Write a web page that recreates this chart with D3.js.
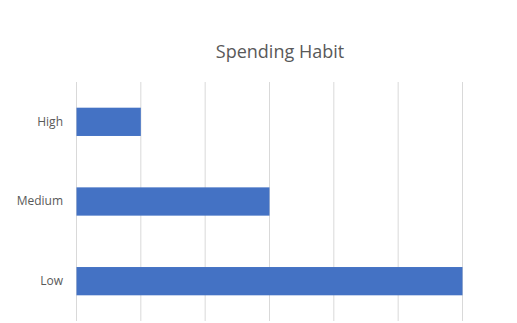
<!DOCTYPE html>
<html>
<head>
<meta charset="utf-8">
<script src="https://cdn.jsdelivr.net/npm/d3@7"></script>
<style>
  html, body { margin: 0; padding: 0; background: #fff; }
  svg { display: block; }
</style>
</head>
<body>
<svg id="chart"></svg>
<script>
const categories = ["High", "Medium", "Low"];
const values = [1, 3, 6];
const xTicks = [0, 1, 2, 3, 4, 5, 6];

const width = 517, height = 323;
const margin = { top: 82, right: 55, bottom: 2, left: 76 };

const svg = d3.select("#chart")
  .attr("width", width)
  .attr("height", height);

const x = d3.scaleLinear()
  .domain([0, 6])
  .range([margin.left, width - margin.right]);

const y = d3.scaleBand()
  .domain(categories)
  .range([margin.top, height - margin.bottom])
  .paddingInner(0.645)
  .paddingOuter(0.3225);

// vertical gridlines
svg.append("g")
  .selectAll("line")
  .data(xTicks)
  .enter().append("line")
  .attr("x1", d => x(d) + 0.5)
  .attr("x2", d => x(d) + 0.5)
  .attr("y1", margin.top)
  .attr("y2", height - margin.bottom)
  .style("stroke", "#d9d9d9")
  .style("stroke-width", 1);

// bars
svg.append("g")
  .selectAll("rect")
  .data(categories)
  .enter().append("rect")
  .attr("x", x(0) + 0.5)
  .attr("y", d => y(d))
  .attr("width", (d, i) => x(values[i]) - x(0))
  .attr("height", y.bandwidth())
  .style("fill", "#4472c4");

// category axis
const yAxis = svg.append("g")
  .attr("transform", "translate(" + (margin.left - 13) + ",0)")
  .call(d3.axisLeft(y).tickSize(0).tickPadding(0));
yAxis.select(".domain").remove();
yAxis.selectAll("text")
  .style("font-family", "'Open Sans', 'Liberation Sans', sans-serif")
  .style("font-size", "12px")
  .style("fill", "#595959");

// title
svg.append("text")
  .attr("x", 280)
  .attr("y", 58)
  .attr("text-anchor", "middle")
  .style("font-family", "'Open Sans', 'Liberation Sans', sans-serif")
  .style("font-size", "18px")
  .style("fill", "#595959")
  .text("Spending Habit");
</script>
</body>
</html>
